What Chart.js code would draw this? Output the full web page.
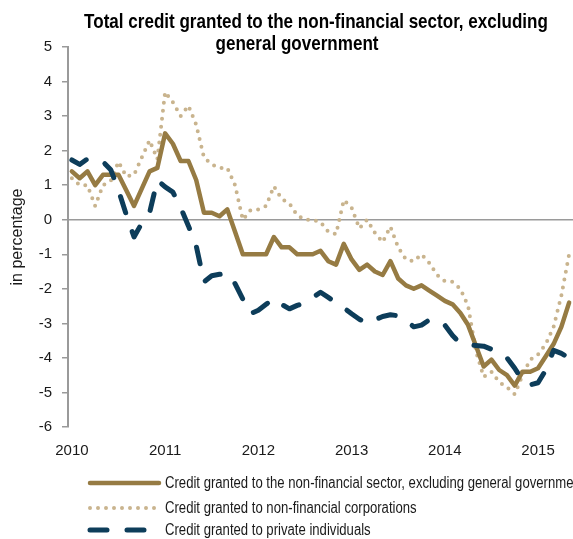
<!DOCTYPE html>
<html>
<head>
<meta charset="utf-8">
<script src="https://cdn.jsdelivr.net/npm/chart.js@4.4.1/dist/chart.umd.min.js"></script>
<style>
html,body{margin:0;padding:0;background:#fff;overflow:hidden;width:573px;height:539px}
#wrap{width:573px;height:539px}
</style>
</head>
<body>
<div id="wrap"><canvas id="c" width="573" height="539"></canvas></div>
<script>
// ---- data ----
const categories = [
  '2010-01','2010-02','2010-03','2010-04','2010-05','2010-06','2010-07','2010-08','2010-09','2010-10','2010-11','2010-12',
  '2011-01','2011-02','2011-03','2011-04','2011-05','2011-06','2011-07','2011-08','2011-09','2011-10','2011-11','2011-12',
  '2012-01','2012-02','2012-03','2012-04','2012-05','2012-06','2012-07','2012-08','2012-09','2012-10','2012-11','2012-12',
  '2013-01','2013-02','2013-03','2013-04','2013-05','2013-06','2013-07','2013-08','2013-09','2013-10','2013-11','2013-12',
  '2014-01','2014-02','2014-03','2014-04','2014-05','2014-06','2014-07','2014-08','2014-09','2014-10','2014-11','2014-12',
  '2015-01','2015-02','2015-03','2015-04','2015-05'
];
const yearLabels = ['2010','2011','2012','2013','2014','2015'];

const totalCredit = [
  1.4,1.2,1.4,1.0,1.3,1.3,1.3,0.85,0.4,0.9,1.4,1.5,
  2.5,2.2,1.7,1.7,1.15,0.2,0.2,0.1,0.3,-0.35,-1.0,-1.0,
  -1.0,-1.0,-0.5,-0.8,-0.8,-1.0,-1.0,-1.0,-0.9,-1.2,-1.3,-0.7,
  -1.15,-1.45,-1.3,-1.5,-1.6,-1.2,-1.7,-1.9,-2.0,-1.9,-2.05,-2.2,
  -2.35,-2.45,-2.7,-3.05,-3.65,-4.25,-4.05,-4.35,-4.5,-4.8,-4.4,-4.4,
  -4.3,-3.95,-3.6,-3.1,-2.4
];
const corporations = [
  1.2,1.0,1.0,0.4,1.0,1.12,1.68,1.25,1.3,1.8,2.3,1.75,
  3.7,3.4,3.0,3.3,2.75,1.8,1.6,1.5,1.5,1.0,0.0,0.28,
  0.3,0.4,0.97,0.6,0.47,0.13,0.0,0.0,-0.07,-0.35,-0.42,0.57,
  0.35,-0.25,0.0,-0.38,-0.65,-0.2,-0.8,-1.15,-1.2,-1.0,-1.25,-1.6,
  -1.78,-1.8,-2.0,-2.5,-3.8,-4.55,-4.4,-4.7,-4.85,-5.05,-4.5,-4.05,
  -3.9,-3.6,-3.1,-2.2,-1.0
];
const individuals = [
  1.73,1.6,1.76,1.72,1.68,1.45,0.85,0.15,-0.5,-0.1,0.2,1.15,
  0.95,0.8,0.35,-0.18,-0.75,-1.8,-1.62,-1.58,-1.55,-1.85,-2.3,-2.72,
  -2.62,-2.45,-2.28,-2.45,-2.58,-2.48,-2.4,-2.25,-2.1,-2.25,-2.4,-2.55,
  -2.72,-2.88,-3.0,-2.9,-2.8,-2.75,-2.78,-2.92,-3.1,-3.05,-2.9,-2.92,
  -3.05,-3.35,-3.58,-3.62,-3.64,-3.66,-3.75,-3.88,-4.0,-4.3,-4.65,-4.78,
  -4.72,-4.35,-3.78,-3.87,-4.0
];
const seriesNames = [
  'Credit granted to the non-financial sector, excluding general government',
  'Credit granted to non-financial corporations',
  'Credit granted to private individuals'
];
const titleLines = ['Total credit granted to the non-financial sector, excluding', 'general government'];
const axisTitle = 'in percentage';

// ---- styling ----
const SANS = "'Liberation Sans',Arial,sans-serif";
const NARROW_FACTOR = 0.82; // emulate a narrow face by horizontal compression

const titlePlugin = {
  id: 'narrowTitle',
  afterDraw(chart) {
    const ctx = chart.ctx;
    const spec = [ { cx: 316, y: 22 }, { cx: 297, y: 44 } ];
    ctx.save();
    ctx.fillStyle = '#000';
    ctx.font = 'bold 21px ' + SANS;
    ctx.textAlign = 'center';
    ctx.textBaseline = 'middle';
    titleLines.forEach((t, i) => {
      const w = ctx.measureText(t).width * NARROW_FACTOR * 0.99;
      ctx.fillText(t, spec[i].cx, spec[i].y, w);
    });
    ctx.restore();
  }
};

const legendPlugin = {
  id: 'manualLegend',
  afterDraw(chart) {
    const ctx = chart.ctx;
    const rows = [483, 508, 530];
    chart.data.datasets.forEach((ds, i) => {
      const y = rows[i];
      ctx.save();
      ctx.strokeStyle = ds.borderColor;
      ctx.lineWidth = ds.borderWidth;
      ctx.lineCap = ds.borderCapStyle || 'butt';
      ctx.setLineDash(ds.borderDash || []);
      ctx.beginPath();
      ctx.moveTo(90, y);
      ctx.lineTo(159, y);
      ctx.stroke();
      ctx.setLineDash([]);
      ctx.fillStyle = '#1a1a1a';
      ctx.font = '16px ' + SANS;
      ctx.textBaseline = 'middle';
      ctx.textAlign = 'left';
      const w = ctx.measureText(ds.label).width * NARROW_FACTOR;
      ctx.fillText(ds.label, 165, y + 1, w);
      ctx.restore();
    });
  }
};

new Chart(document.getElementById('c'), {
  type: 'line',
  data: {
    labels: categories,
    datasets: [
      { label: seriesNames[0], data: totalCredit, borderColor: '#967B43', borderWidth: 4.5,
        borderCapStyle: 'round', borderJoinStyle: 'round', pointRadius: 0, tension: 0, order: 1 },
      { label: seriesNames[1], data: corporations, borderColor: '#C9B48E', borderWidth: 4,
        borderDash: [0, 8], borderCapStyle: 'round', borderJoinStyle: 'round', pointRadius: 0, tension: 0, order: 2 },
      { label: seriesNames[2], data: individuals, borderColor: '#0D3D5A', borderWidth: 5,
        borderDash: [17, 20], borderCapStyle: 'round', borderJoinStyle: 'round', pointRadius: 0, tension: 0, order: 0 }
    ]
  },
  options: {
    responsive: false,
    animation: false,
    devicePixelRatio: 1,
    layout: { padding: { left: 21, right: 0, top: 47, bottom: 79 } },
    plugins: {
      legend: { display: false },
      tooltip: { enabled: false },
      title: { display: false }
    },
    scales: {
      x: {
        type: 'category',
        offset: true,
        grid: { display: false, drawTicks: true, tickLength: 15 },
        border: { display: false },
        ticks: {
          autoSkip: false, maxRotation: 0, minRotation: 0, padding: 0,
          color: '#1a1a1a', font: { family: SANS, size: 15 },
          callback: (v, i) => (i % 12 === 0 ? yearLabels[i / 12] : '')
        },
        afterFit: (s) => { s.height = 33; s.paddingRight = 0; }
      },
      y: {
        min: -6, max: 5,
        ticks: { stepSize: 1, padding: 10, color: '#1a1a1a', font: { family: SANS, size: 15 } },
        grid: {
          drawOnChartArea: true,
          color: (c) => (c.tick && c.tick.value === 0 ? '#9a9a9a' : 'rgba(0,0,0,0)'),
          lineWidth: 1.5,
          tickLength: 6,
          tickColor: '#9a9a9a',
          tickWidth: 1.5
        },
        border: { display: true, color: '#9a9a9a', width: 2 },
        title: {
          display: true, text: axisTitle, color: '#1a1a1a',
          font: { family: SANS, size: 16 },
          padding: { top: -12.6, bottom: 0 }
        },
        afterFit: (s) => { s.width = 47; }
      }
    }
  },
  plugins: [titlePlugin, legendPlugin]
});
</script>
</body>
</html>
